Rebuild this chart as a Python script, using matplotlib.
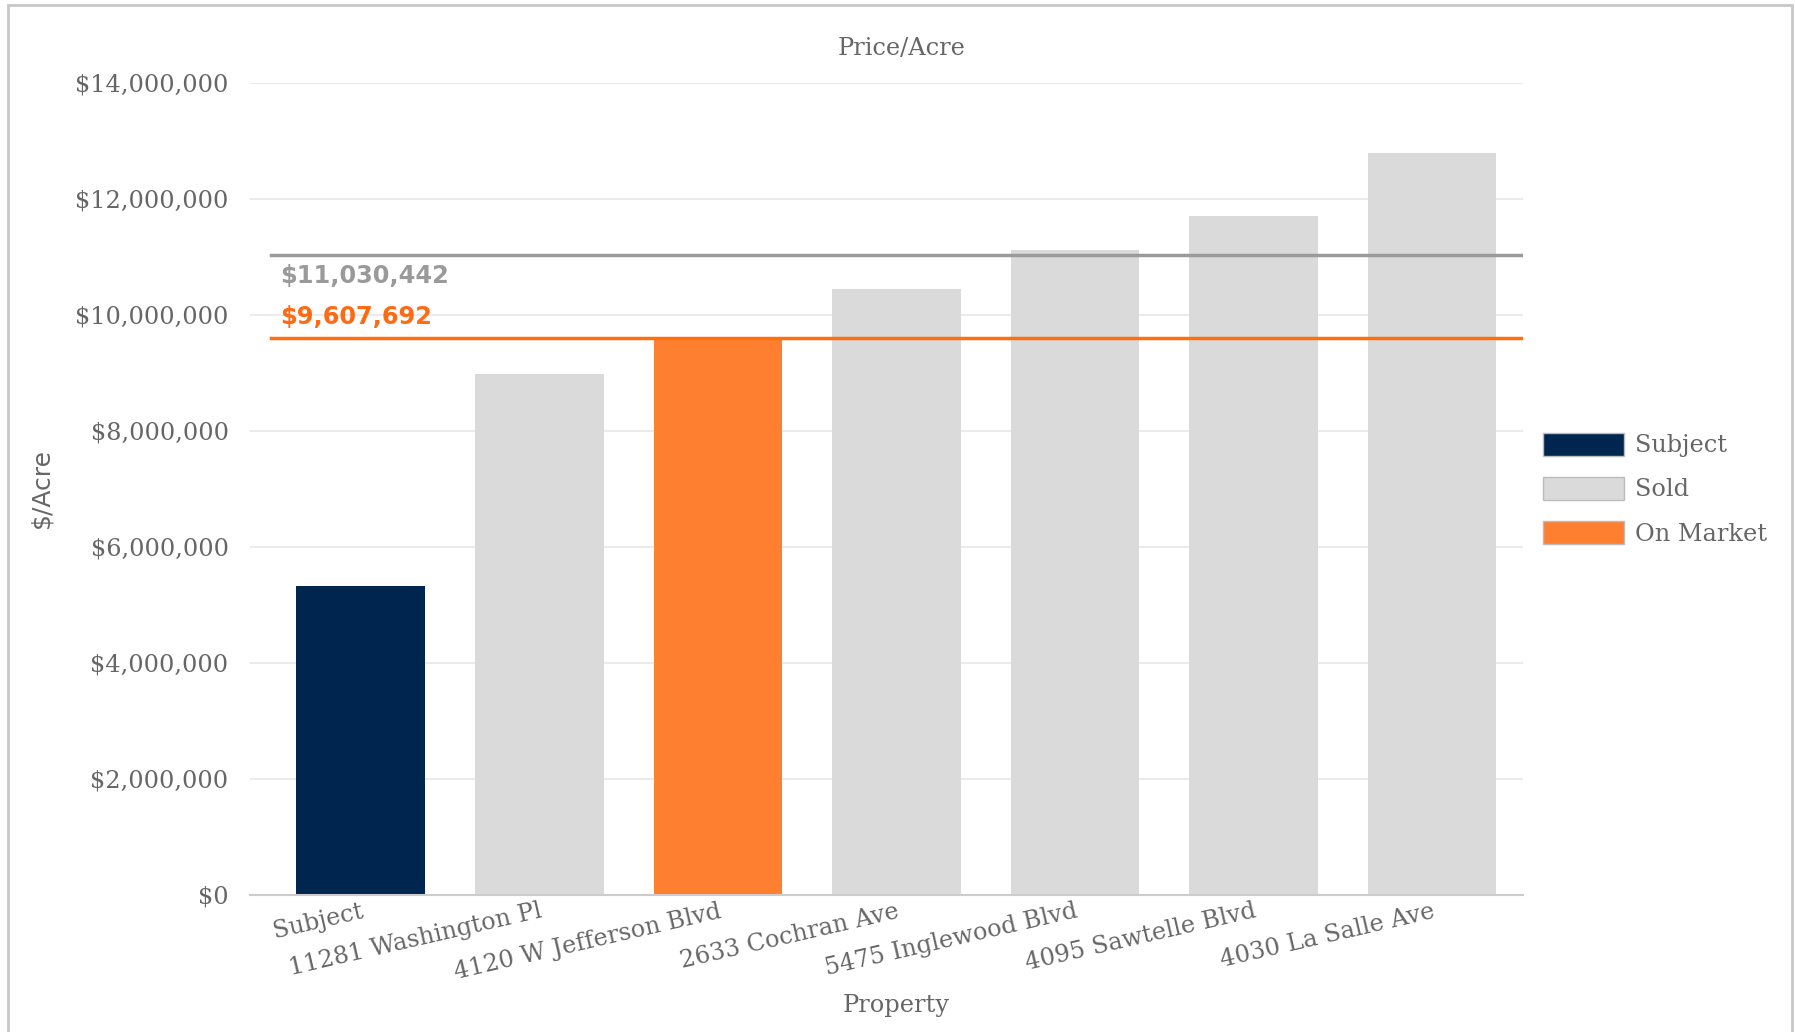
import matplotlib.pyplot as plt
from matplotlib.patches import Patch, Rectangle
from matplotlib.ticker import FuncFormatter

# values
properties = ['Subject', '11281 Washington Pl', '4120 W Jefferson Blvd',
              '2633 Cochran Ave', '5475 Inglewood Blvd', '4095 Sawtelle Blvd',
              '4030 La Salle Ave']
status = ['Subject', 'Sold', 'On Market', 'Sold', 'Sold', 'Sold', 'Sold']
price_per_acre = [5330000, 8990000, 9607692, 10440000, 11120000, 11710000, 12800000]
sold_avg = 11030442
market_avg = 9607692

colors = {'Subject': '#002650', 'Sold': '#d9dad9', 'On Market': '#fe7f30'}
serif = 'DejaVu Serif'
txt_gray = '#666666'
fs = 17.3

fig = plt.figure(figsize=(17.95, 10.32), dpi=100)
ax = fig.add_axes([0.1393, 0.1328, 0.7092, 0.7868])

x = range(len(properties))
ax.bar(x, price_per_acre, width=0.72, color=[colors[s] for s in status], zorder=2)

ax.set_ylim(0, 14000000)
ax.set_xlim(-0.62, 6.51)
ax.set_yticks(range(0, 14000001, 2000000))
ax.yaxis.set_major_formatter(FuncFormatter(lambda v, p: '${:,.0f}'.format(v)))
ax.grid(axis='y', color='#ebebeb', linewidth=1.5, zorder=0)
ax.set_axisbelow(True)
for s in ['top', 'right', 'left']:
    ax.spines[s].set_visible(False)
ax.spines['bottom'].set_color('#cccccc')
ax.spines['bottom'].set_linewidth(1.5)
ax.tick_params(length=0, colors=txt_gray, labelsize=fs)
ax.tick_params(axis='y', pad=15.5)
ax.set_xticks(list(x))
ax.set_xticklabels(properties, rotation=13, ha='right', rotation_mode='anchor',
                   fontfamily=serif, fontsize=fs, color=txt_gray)
for lab in ax.get_yticklabels():
    lab.set_fontfamily(serif)

# average lines
ax.plot([-0.5, 6.51], [sold_avg, sold_avg], color='#9a9a9a', linewidth=2.5, zorder=3)
ax.plot([-0.5, 6.51], [market_avg, market_avg], color='#ff6f10', linewidth=2.5, zorder=3)
ax.annotate('${:,.0f}'.format(sold_avg), (-0.5, sold_avg), xytext=(6, -6.5),
            textcoords='offset points', va='top', ha='left', fontsize=fs,
            fontweight='bold', color='#9a9a9a', family='DejaVu Sans')
ax.annotate('${:,.0f}'.format(market_avg), (-0.5, market_avg), xytext=(6, 6),
            textcoords='offset points', va='bottom', ha='left', fontsize=fs,
            fontweight='bold', color='#ff6a13', family='DejaVu Sans')

fig.text(0.5025, 0.953, 'Price/Acre', ha='center', va='center', fontsize=fs,
         family=serif, color=txt_gray)
fig.text(0.499, 0.026, 'Property', ha='center', va='center', fontsize=fs,
         family=serif, color=txt_gray)
fig.text(0.023, 0.527, '$/Acre', ha='center', va='center', rotation=90,
         fontsize=18, family='DejaVu Sans', color=txt_gray)

handles = [Patch(facecolor=colors[k], edgecolor='#bbbbbb', linewidth=1, label=k)
           for k in ['Subject', 'Sold', 'On Market']]
leg = fig.legend(handles=handles, loc='upper left', bbox_to_anchor=(0.8474, 0.6018),
                 frameon=False, handlelength=3.4, handleheight=1.12,
                 handletextpad=0.45, labelspacing=0.8,
                 prop={'family': serif, 'size': fs})
for t in leg.get_texts():
    t.set_color(txt_gray)

# light frame around the chart
fig.add_artist(Rectangle((8 / 1795, -0.01), 1784 / 1795, 1.005, transform=fig.transFigure,
                         fill=False, edgecolor='#c8c8c8', linewidth=2))

fig.savefig('out.png', dpi=100)
